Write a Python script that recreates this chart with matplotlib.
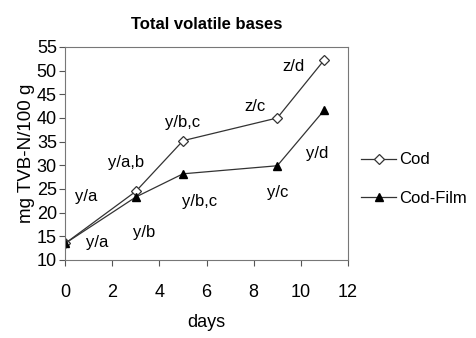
import matplotlib.pyplot as plt

plt.rcParams['font.family'] = ['Liberation Sans', 'DejaVu Sans']

days = [0, 3, 5, 9, 11]
cod = [13.5, 24.5, 35.2, 40.0, 52.3]
cod_film = [13.5, 23.3, 28.2, 29.9, 41.7]

labels = ["y/a", "y/a", "y/a,b", "y/b", "y/b,c", "y/b,c", "z/c", "y/c", "z/d", "y/d"]
label_x = [0.9, 1.35, 2.6, 3.35, 5.0, 5.7, 8.05, 9.0, 9.7, 10.7]
label_y = [23.3, 13.6, 30.5, 15.7, 39.0, 22.3, 42.5, 24.2, 50.8, 32.4]

fig = plt.figure(figsize=(4.76, 3.38), dpi=100)
ax = fig.add_axes([0.137, 0.231, 0.594, 0.630])

ax.plot(days, cod, color='#333333', lw=0.9, marker='D', ms=5, mfc='white',
        mec='#333333', mew=0.9, label='Cod')
ax.plot(days, cod_film, color='#333333', lw=0.9, marker='^', ms=6, mfc='black',
        mec='black', label='Cod-Film')

for t, x, y in zip(labels, label_x, label_y):
    ax.text(x, y, t, ha='center', va='center', fontsize=12)

ax.set_xlim(0, 12)
ax.set_ylim(10, 55)
ax.set_xticks(range(0, 13, 2))
ax.set_yticks(range(10, 56, 5))
ax.tick_params(labelsize=13, direction='out', length=4, color='#555555')
ax.tick_params(axis='x', pad=13)
ax.tick_params(axis='y', pad=2)
for s in ax.spines.values():
    s.set_color('#777777')
    s.set_linewidth(0.8)

ax.set_title('Total volatile bases', fontsize=12, fontweight='bold', pad=13)
ax.set_xlabel('days', fontsize=13, labelpad=10)
ax.set_ylabel('mg TVB-N/100 g', fontsize=13.5, labelpad=1)

ax.legend(loc='center left', bbox_to_anchor=(1.005, 0.38), frameon=False,
          fontsize=12, handlelength=2.1, handletextpad=0.2, labelspacing=1.4,
          borderpad=0.2)

fig.savefig('out.png', dpi=100)
